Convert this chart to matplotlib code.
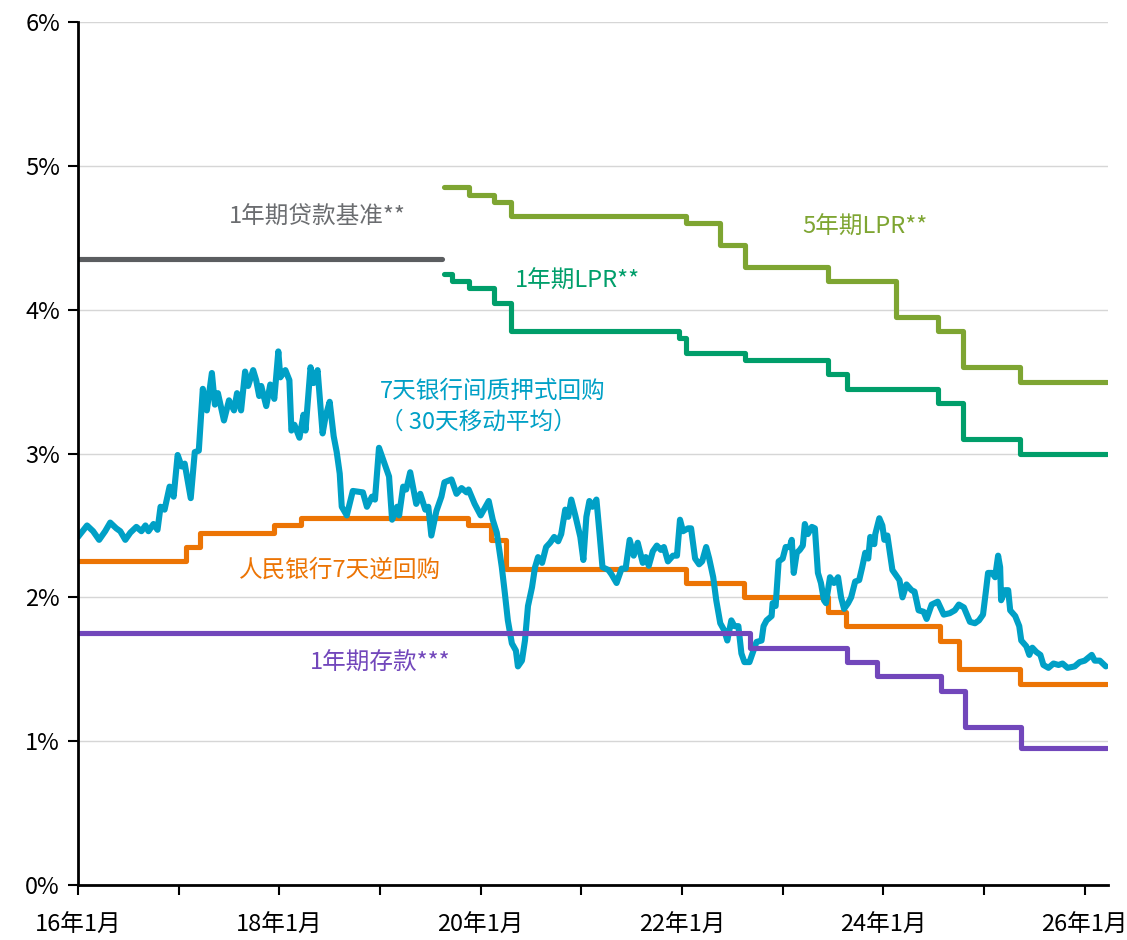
import matplotlib
matplotlib.use('Agg')
import matplotlib.pyplot as plt

plt.rcParams['font.family'] = ['Noto Sans CJK SC', 'DejaVu Sans']

# step series (decimal year of change, rate %)
loan_x = [2016.0, 2019.62]
loan_y = [4.35, 4.35]

lpr5_x = [2019.64, 2019.88, 2020.13, 2020.30, 2022.04, 2022.38, 2022.63, 2023.45,
          2024.13, 2024.54, 2024.79, 2025.36, 2026.22]
lpr5_y = [4.85, 4.80, 4.75, 4.65, 4.60, 4.45, 4.30, 4.20, 3.95, 3.85, 3.60, 3.50, 3.50]

lpr1_x = [2019.64, 2019.72, 2019.88, 2020.13, 2020.30, 2021.97, 2022.04, 2022.63,
          2023.45, 2023.64, 2024.54, 2024.79, 2025.36, 2026.22]
lpr1_y = [4.25, 4.20, 4.15, 4.05, 3.85, 3.80, 3.70, 3.65, 3.55, 3.45, 3.35, 3.10, 3.00, 3.00]

rr_x = [2016.0, 2017.07, 2017.21, 2017.95, 2018.22, 2019.87, 2020.10, 2020.25, 2022.04,
        2022.62, 2023.45, 2023.63, 2024.56, 2024.75, 2025.36, 2026.22]
rr_y = [2.25, 2.35, 2.45, 2.50, 2.55, 2.50, 2.40, 2.20, 2.10, 2.00, 1.90, 1.80, 1.70,
        1.50, 1.40, 1.40]

dep_x = [2016.0, 2022.68, 2023.64, 2023.94, 2024.57, 2024.81, 2025.37, 2026.22]
dep_y = [1.75, 1.65, 1.55, 1.45, 1.35, 1.10, 0.95, 0.95]

# 7-day interbank pledged repo, 30-day moving average
repo_x = [2016.00, 2016.09, 2016.15, 2016.21, 2016.27, 2016.32, 2016.38, 2016.42, 2016.47,
          2016.52, 2016.58, 2016.63, 2016.67, 2016.70, 2016.75, 2016.79, 2016.82, 2016.86,
          2016.91, 2016.95, 2016.99, 2017.03, 2017.06, 2017.12, 2017.16, 2017.20, 2017.24,
          2017.28, 2017.33, 2017.36, 2017.39, 2017.45, 2017.50, 2017.55, 2017.58, 2017.62,
          2017.66, 2017.69, 2017.74, 2017.77, 2017.80, 2017.82, 2017.87, 2017.91, 2017.95,
          2017.99, 2018.01, 2018.06, 2018.10, 2018.12, 2018.15, 2018.20, 2018.24, 2018.26,
          2018.31, 2018.34, 2018.38, 2018.43, 2018.46, 2018.50, 2018.54, 2018.57, 2018.60,
          2018.62, 2018.67, 2018.73, 2018.83, 2018.87, 2018.92, 2018.95, 2018.99, 2019.04,
          2019.09, 2019.12, 2019.17, 2019.19, 2019.23, 2019.26, 2019.30, 2019.36, 2019.40,
          2019.45, 2019.48, 2019.51, 2019.56, 2019.61, 2019.64, 2019.71, 2019.76, 2019.81,
          2019.86, 2019.88, 2019.94, 2020.00, 2020.04, 2020.08, 2020.12, 2020.16, 2020.21,
          2020.24, 2020.27, 2020.31, 2020.35, 2020.37, 2020.41, 2020.44, 2020.47, 2020.51,
          2020.54, 2020.57, 2020.61, 2020.65, 2020.69, 2020.73, 2020.77, 2020.80, 2020.84,
          2020.87, 2020.90, 2020.94, 2020.99, 2021.02, 2021.05, 2021.08, 2021.11, 2021.15,
          2021.18, 2021.21, 2021.27, 2021.30, 2021.35, 2021.40, 2021.44, 2021.48, 2021.52,
          2021.56, 2021.61, 2021.64, 2021.67, 2021.71, 2021.75, 2021.79, 2021.82, 2021.86,
          2021.91, 2021.95, 2021.98, 2022.01, 2022.06, 2022.09, 2022.13, 2022.17, 2022.20,
          2022.24, 2022.27, 2022.31, 2022.34, 2022.38, 2022.42, 2022.45, 2022.49, 2022.52,
          2022.56, 2022.59, 2022.62, 2022.67, 2022.71, 2022.74, 2022.79, 2022.81, 2022.84,
          2022.89, 2022.90, 2022.93, 2022.96, 2023.00, 2023.03, 2023.07, 2023.09, 2023.11,
          2023.14, 2023.17, 2023.20, 2023.22, 2023.25, 2023.29, 2023.32, 2023.35, 2023.38,
          2023.41, 2023.43, 2023.47, 2023.51, 2023.55, 2023.58, 2023.61, 2023.65, 2023.68,
          2023.72, 2023.76, 2023.79, 2023.82, 2023.85, 2023.87, 2023.91, 2023.92, 2023.96,
          2023.99, 2024.01, 2024.04, 2024.09, 2024.12, 2024.16, 2024.19, 2024.23, 2024.28,
          2024.31, 2024.35, 2024.40, 2024.43, 2024.48, 2024.54, 2024.60, 2024.66, 2024.71,
          2024.75, 2024.80, 2024.86, 2024.91, 2024.95, 2024.99, 2025.02, 2025.04, 2025.08,
          2025.11, 2025.14, 2025.16, 2025.17, 2025.21, 2025.24, 2025.26, 2025.31, 2025.35,
          2025.37, 2025.42, 2025.45, 2025.48, 2025.52, 2025.56, 2025.59, 2025.64, 2025.69,
          2025.74, 2025.78, 2025.83, 2025.90, 2025.95, 2026.00, 2026.07, 2026.10, 2026.15,
          2026.21]
repo_y = [2.42, 2.50, 2.46, 2.40, 2.46, 2.52, 2.48, 2.46, 2.40,
          2.45, 2.49, 2.46, 2.50, 2.46, 2.51, 2.47, 2.63, 2.61,
          2.77, 2.70, 2.99, 2.91, 2.93, 2.69, 3.01, 3.02, 3.45,
          3.30, 3.56, 3.34, 3.42, 3.23, 3.37, 3.30, 3.42, 3.30,
          3.57, 3.47, 3.58, 3.51, 3.40, 3.47, 3.33, 3.48, 3.38,
          3.71, 3.53, 3.58, 3.51, 3.16, 3.20, 3.11, 3.27, 3.16,
          3.60, 3.49, 3.58, 3.14, 3.26, 3.36, 3.12, 3.01, 2.86,
          2.63, 2.57, 2.74, 2.73, 2.63, 2.70, 2.68, 3.04, 2.94,
          2.84, 2.54, 2.63, 2.57, 2.77, 2.75, 2.87, 2.65, 2.72,
          2.61, 2.63, 2.43, 2.60, 2.70, 2.80, 2.82, 2.72, 2.76,
          2.73, 2.75, 2.65, 2.57, 2.62, 2.67, 2.54, 2.45, 2.21,
          2.03, 1.84, 1.68, 1.63, 1.52, 1.56, 1.70, 1.94, 2.07,
          2.21, 2.28, 2.24, 2.35, 2.38, 2.42, 2.39, 2.44, 2.61,
          2.56, 2.68, 2.57, 2.42, 2.26, 2.56, 2.67, 2.63, 2.68,
          2.45, 2.21, 2.19, 2.16, 2.10, 2.20, 2.20, 2.40, 2.29,
          2.38, 2.24, 2.28, 2.22, 2.32, 2.36, 2.33, 2.35, 2.25,
          2.29, 2.29, 2.54, 2.46, 2.48, 2.48, 2.27, 2.23, 2.25,
          2.35, 2.27, 2.14, 1.98, 1.82, 1.77, 1.70, 1.84, 1.80,
          1.80, 1.61, 1.55, 1.55, 1.63, 1.69, 1.70, 1.80, 1.84,
          1.87, 1.96, 1.94, 2.25, 2.27, 2.35, 2.35, 2.40, 2.17,
          2.31, 2.33, 2.36, 2.51, 2.44, 2.49, 2.48, 2.17, 2.10,
          1.98, 1.96, 2.14, 2.10, 2.14, 2.00, 1.92, 1.96, 2.00,
          2.11, 2.12, 2.21, 2.31, 2.27, 2.42, 2.37, 2.44, 2.55,
          2.50, 2.40, 2.43, 2.19, 2.16, 2.12, 2.00, 2.09, 2.05,
          2.04, 1.91, 1.90, 1.85, 1.95, 1.97, 1.88, 1.89, 1.91,
          1.95, 1.93, 1.83, 1.82, 1.84, 1.88, 2.05, 2.17, 2.17,
          2.14, 2.29, 2.21, 1.98, 2.05, 2.05, 1.91, 1.87, 1.80,
          1.70, 1.66, 1.60, 1.65, 1.62, 1.60, 1.53, 1.51, 1.54,
          1.53, 1.54, 1.51, 1.52, 1.55, 1.56, 1.60, 1.56, 1.56,
          1.52]

year_ticks = list(range(2016, 2027))
year_labels = ['16年1月', '', '18年1月', '', '20年1月', '', '22年1月', '', '24年1月', '', '26年1月']
pct_ticks = [0, 1, 2, 3, 4, 5, 6]
pct_labels = ['0%', '1%', '2%', '3%', '4%', '5%', '6%']

c_gray = '#5b5d60'
c_lpr5 = '#7ea532'
c_lpr1 = '#009e6a'
c_repo = '#00a0c6'
c_rr = '#ec7404'
c_dep = '#7247bb'

fig = plt.figure(figsize=(11.27, 9.4), dpi=100)
ax = fig.add_axes([0.0692, 0.0585, 0.9138, 0.918])

lw = 3.7
ax.plot(loan_x, loan_y, color=c_gray, lw=lw, solid_capstyle='round', zorder=3)
ax.plot(lpr5_x, lpr5_y, color=c_lpr5, lw=lw, drawstyle='steps-post', solid_capstyle='round', zorder=3)
ax.plot(lpr1_x, lpr1_y, color=c_lpr1, lw=lw, drawstyle='steps-post', solid_capstyle='round', zorder=3)
ax.plot(rr_x, rr_y, color=c_rr, lw=lw, drawstyle='steps-post', solid_capstyle='round', zorder=3)
ax.plot(repo_x, repo_y, color=c_repo, lw=4.4, solid_joinstyle='round', solid_capstyle='round', zorder=4)
ax.plot(dep_x, dep_y, color=c_dep, lw=lw, drawstyle='steps-post', solid_capstyle='round', zorder=5)

fs = 17
ax.text(2018.38, 4.64, '1年期贷款基准**', color='#6b6d70', fontsize=fs, ha='center', va='center')
ax.text(2023.82, 4.57, '5年期LPR**', color=c_lpr5, fontsize=fs, ha='center', va='center')
ax.text(2020.96, 4.20, '1年期LPR**', color=c_lpr1, fontsize=fs, ha='center', va='center')
ax.text(2020.12, 3.43, '7天银行间质押式回购', color=c_repo, fontsize=fs, ha='center', va='center')
ax.text(2019.98, 3.22, '（ 30天移动平均）', color=c_repo, fontsize=fs, ha='center', va='center')
ax.text(2018.60, 2.19, '人民银行7天逆回购', color=c_rr, fontsize=fs, ha='center', va='center')
ax.text(2019.00, 1.54, '1年期存款***', color=c_dep, fontsize=fs, ha='center', va='center')

ax.set_xlim(2016.0, 2026.23)
ax.set_ylim(0, 6)
ax.set_xticks(year_ticks)
ax.set_xticklabels(year_labels)
ax.set_yticks(pct_ticks)
ax.set_yticklabels(pct_labels)
ax.tick_params(axis='both', labelsize=fs, length=7, width=1.5, direction='out', colors='black')
ax.tick_params(axis='x', pad=14)
ax.tick_params(axis='y', pad=6)

ax.grid(axis='y', color='#d6d6d6', lw=1.0, zorder=0)
ax.set_axisbelow(True)
for s in ['top', 'right']:
    ax.spines[s].set_visible(False)
for s in ['left', 'bottom']:
    ax.spines[s].set_linewidth(2)
    ax.spines[s].set_zorder(6)

fig.savefig('out.png', dpi=100)
